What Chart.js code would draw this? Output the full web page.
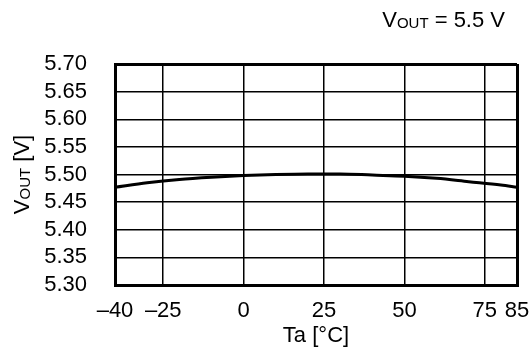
<!DOCTYPE html>
<html>
<head>
<meta charset="utf-8">
<script src="https://cdn.jsdelivr.net/npm/chart.js@4/dist/chart.umd.min.js"></script>
<style>
  html, body { margin: 0; padding: 0; background: #fff; }
  #wrap { width: 531px; height: 353px; position: relative; }
</style>
</head>
<body>
<div id="wrap"><canvas id="c" width="531" height="353"></canvas></div>
<script>
// Output voltage vs. ambient temperature (VOUT = 5.5 V)
const temperature = [-40, -30, -20, -10, 0, 10, 20, 30, 40, 50, 60, 70, 80, 85];
const voutValues  = [5.477, 5.485, 5.491, 5.495, 5.498, 5.500, 5.501, 5.501, 5.499, 5.497, 5.493, 5.487, 5.481, 5.477];

const xTickValues = [-40, -25, 0, 25, 50, 75, 85];
const xTickLabels = ['\u201340', '\u201325', '0', '25', '50', '75', '85'];
const yTickValues = [5.30, 5.35, 5.40, 5.45, 5.50, 5.55, 5.60, 5.65, 5.70];

const X_MIN = -40, X_MAX = 85, Y_MIN = 5.30, Y_MAX = 5.70;
const FONT = '"Liberation Sans", Arial, sans-serif';
const FS = 22;      // tick labels
const FT = 22;      // titles and note
const FSUB = 15;    // subscripts

// draws text runs with subscripts, starting at (x, y) on a common baseline
function drawRuns(ctx, runs, x, y) {
  let cx = x;
  runs.forEach(r => {
    ctx.font = r.size + 'px ' + FONT;
    ctx.fillText(r.text, cx, y + (r.dy || 0));
    cx += ctx.measureText(r.text).width;
  });
  return cx;
}
function runsWidth(ctx, runs) {
  let w = 0;
  runs.forEach(r => { ctx.font = r.size + 'px ' + FONT; w += ctx.measureText(r.text).width; });
  return w;
}

const titlesPlugin = {
  id: 'titles',
  afterDraw(chart) {
    const ctx = chart.ctx;
    const area = chart.chartArea;
    ctx.save();
    ctx.fillStyle = '#000';
    ctx.textBaseline = 'alphabetic';
    ctx.textAlign = 'left';

    // y-axis title, rotated
    const yRuns = [
      { text: 'V', size: FT },
      { text: 'OUT', size: FSUB, dy: 1 },
      { text: ' [V]', size: FT }
    ];
    const yw = runsWidth(ctx, yRuns);
    ctx.translate(29, (area.top + area.bottom) / 2);
    ctx.rotate(-Math.PI / 2);
    drawRuns(ctx, yRuns, -yw / 2, 0);
    ctx.restore();

    // condition note above the plot
    ctx.save();
    ctx.fillStyle = '#000';
    ctx.textBaseline = 'alphabetic';
    ctx.textAlign = 'left';
    const tRuns = [
      { text: 'V', size: FT },
      { text: 'OUT', size: FSUB, dy: 1 },
      { text: ' = 5.5 V', size: FT }
    ];
    const tw = runsWidth(ctx, tRuns);
    drawRuns(ctx, tRuns, 505 - tw, 27);
    ctx.restore();
  }
};

const edgeWidth = (min, max) => (c) => {
  const v = c.tick ? c.tick.value : null;
  return (v === min || v === max) ? 3 : 1.5;
};

new Chart(document.getElementById('c'), {
  type: 'line',
  data: {
    datasets: [{
      data: temperature.map((t, i) => ({ x: t, y: voutValues[i] })),
      borderColor: '#000',
      borderWidth: 3,
      pointRadius: 0,
      cubicInterpolationMode: 'monotone',
      fill: false
    }]
  },
  options: {
    responsive: false,
    animation: false,
    devicePixelRatio: 1,
    layout: { padding: { top: 64, right: 14, left: 0, bottom: 0 } },
    plugins: { legend: { display: false }, tooltip: { enabled: false } },
    scales: {
      x: {
        type: 'linear',
        min: X_MIN, max: X_MAX,
        afterBuildTicks: s => { s.ticks = xTickValues.map(v => ({ value: v })); },
        afterFit: s => { s.height = 353 - 285; s.paddingLeft = 0; s.paddingRight = 0; },
        ticks: {
          color: '#000',
          font: { family: FONT, size: FS },
          padding: 13,
          maxRotation: 0,
          autoSkip: false,
          callback: (v) => xTickLabels[xTickValues.indexOf(v)]
        },
        grid: { color: '#000', lineWidth: edgeWidth(X_MIN, X_MAX), drawTicks: false },
        border: { display: true, color: '#000', width: 3 },
        title: { display: true, text: 'Ta [\u00B0C]', color: '#000', font: { family: FONT, size: FT }, padding: { top: 3 } }
      },
      y: {
        min: Y_MIN, max: Y_MAX,
        afterBuildTicks: s => { s.ticks = yTickValues.map(v => ({ value: v })); },
        afterFit: s => { s.width = 115; s.paddingTop = 0; s.paddingBottom = 0; },
        ticks: {
          color: '#000',
          font: { family: FONT, size: FS },
          padding: 28,
          autoSkip: false,
          callback: (v) => Number(v).toFixed(2)
        },
        grid: { color: '#000', lineWidth: edgeWidth(Y_MIN, Y_MAX), drawTicks: false },
        border: { display: true, color: '#000', width: 3 }
      }
    }
  },
  plugins: [titlesPlugin]
});
</script>
</body>
</html>
